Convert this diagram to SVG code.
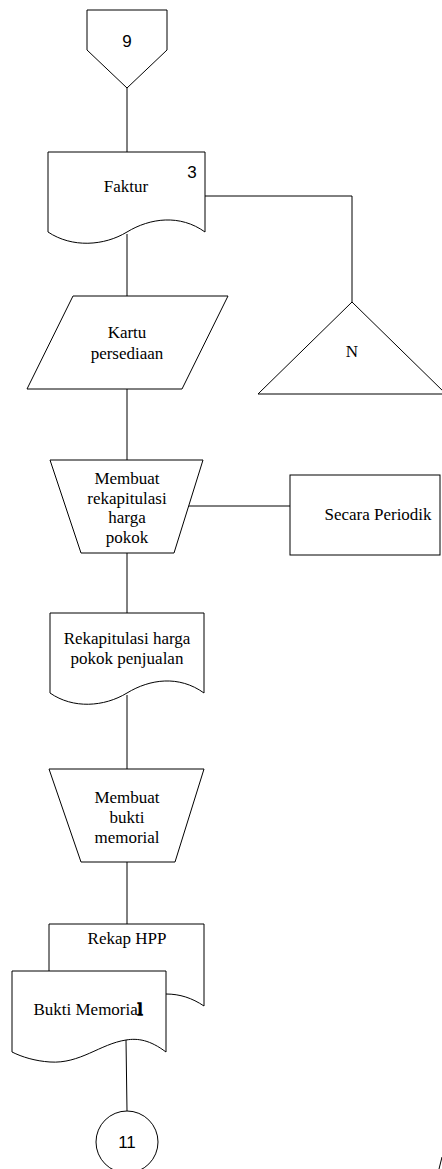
<svg xmlns="http://www.w3.org/2000/svg" width="442" height="1169" viewBox="0 0 442 1169">
  <style>
    .shape { fill: #fff; stroke: #000; stroke-width: 1; }
    .wire { fill: none; stroke: #000; stroke-width: 1; }
    .lbl { font-family: "Liberation Serif", "Times New Roman", serif; font-size: 17px; fill: #000; text-anchor: middle; }
    .num { font-family: "Liberation Sans", Arial, sans-serif; font-size: 17px; fill: #000; text-anchor: middle; }
  </style>

  <!-- connectors -->
  <g id="connectors">
    <line class="wire" x1="127" y1="88" x2="127" y2="152"/>
    <polyline class="wire" points="205,196 352,196 352,302"/>
    <line class="wire" x1="127" y1="234" x2="127" y2="296"/>
    <line class="wire" x1="127" y1="389" x2="127" y2="460"/>
    <line class="wire" x1="189" y1="506" x2="290" y2="506"/>
    <line class="wire" x1="127" y1="553" x2="127" y2="613"/>
    <line class="wire" x1="127" y1="695" x2="127" y2="769"/>
    <line class="wire" x1="127" y1="862" x2="127" y2="924"/>
    <line class="wire" x1="126" y1="1040" x2="127" y2="1111"/>
    <line class="wire" x1="442" y1="1157" x2="439" y2="1169"/>
  </g>

  <!-- off-page connector 9 -->
  <g id="offpage-9">
    <polygon class="shape" points="87,10 167,10 167,50 127,88 87,50"/>
    <text class="num" x="127" y="47" font-size="18">9</text>
  </g>

  <!-- Faktur document -->
  <g id="doc-faktur">
    <path class="shape" d="M48,152 H205 V232 C180,214 150,218 127,232 C104,246 72,248 48,232 Z"/>
    <text class="lbl" x="126" y="192">Faktur</text>
    <text class="num" x="192" y="178" font-size="16">3</text>
  </g>

  <!-- off-line storage N -->
  <g id="storage-n">
    <polygon class="shape" points="352,302 258,394 446,394"/>
    <text class="lbl" x="352" y="357" font-size="15">N</text>
  </g>

  <!-- Kartu persediaan -->
  <g id="io-kartu">
    <polygon class="shape" points="73,296 228,296 182,389 27,389"/>
    <text class="lbl" x="127" y="338">Kartu</text>
    <text class="lbl" x="127" y="359">persediaan</text>
  </g>

  <!-- manual operation: rekapitulasi -->
  <g id="manual-rekap">
    <polygon class="shape" points="50,460 203,460 174,553 81,553"/>
    <text class="lbl" x="127" y="484">Membuat</text>
    <text class="lbl" x="127" y="504">rekapitulasi</text>
    <text class="lbl" x="127" y="523">harga</text>
    <text class="lbl" x="127" y="543">pokok</text>
  </g>

  <!-- Secara Periodik -->
  <g id="box-periodik">
    <rect class="shape" x="290" y="475" width="150" height="80"/>
    <text class="lbl" x="378" y="520">Secara Periodik</text>
  </g>

  <!-- Rekapitulasi harga pokok penjualan -->
  <g id="doc-rekap">
    <path class="shape" d="M50,613 H204 V693 C179,675 150,679 127,693 C104,707 73,709 50,693 Z"/>
    <text class="lbl" x="127" y="644">Rekapitulasi harga</text>
    <text class="lbl" x="127" y="664">pokok penjualan</text>
  </g>

  <!-- manual operation: bukti memorial -->
  <g id="manual-bukti">
    <polygon class="shape" points="49,769 204,769 175,862 81,862"/>
    <text class="lbl" x="127" y="803">Membuat</text>
    <text class="lbl" x="127" y="823">bukti</text>
    <text class="lbl" x="127" y="843">memorial</text>
  </g>

  <!-- Rekap HPP (back sheet) -->
  <g id="doc-rekap-hpp">
    <path class="shape" d="M49,971 V924 H204 V1006 C192,998 180,994 166,994"/>
    <text class="lbl" x="127" y="944">Rekap HPP</text>
  </g>

  <!-- Bukti Memorial (front sheet) -->
  <g id="doc-bukti">
    <path class="shape" d="M12,971 H166 V1052 C150,1040 138,1038 126,1040 C100,1044 80,1064 50,1062 C35,1061 22,1057 12,1052 Z"/>
    <text class="lbl" x="88" y="1015">Bukti Memoria<tspan style="stroke:#000;stroke-width:1.6">l</tspan></text>
  </g>

  <!-- off-page connector 11 -->
  <g id="connector-11">
    <circle class="shape" cx="127" cy="1142" r="31"/>
    <text class="num" x="127" y="1148">11</text>
  </g>
</svg>
